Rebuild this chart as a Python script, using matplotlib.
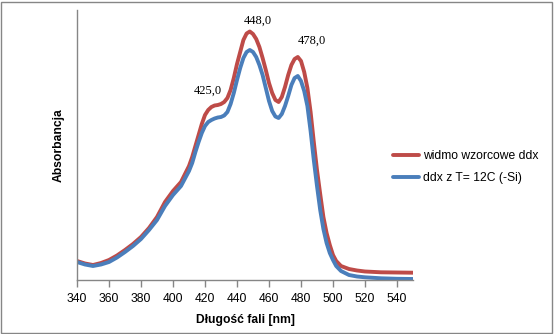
import matplotlib
matplotlib.use("Agg")
import matplotlib.pyplot as plt
from matplotlib.patches import Rectangle

# ---- data ----
wavelength = [340, 345, 350, 355, 360, 365, 370, 375, 380, 385, 390, 395, 400, 405,
              410, 412, 414, 416, 418, 420, 422, 424, 426, 428, 430, 432, 434, 436,
              438, 440, 442, 444, 446, 448, 450, 452, 454, 456, 458, 460, 462, 464,
              466, 468, 470, 472, 474, 476, 478, 480, 482, 484, 486, 488, 490, 492,
              494, 496, 498, 500, 502, 505, 510, 515, 520, 530, 540, 550]
ref_abs = [0.19, 0.165, 0.15, 0.17, 0.20, 0.245, 0.30, 0.36, 0.43, 0.52, 0.63, 0.78,
           0.89, 0.98,
           1.14, 1.23, 1.34, 1.45, 1.56, 1.65, 1.70, 1.73, 1.745, 1.75, 1.76, 1.78,
           1.82, 1.90, 2.02, 2.16, 2.28, 2.40, 2.465, 2.485, 2.46, 2.41, 2.33, 2.22,
           2.10, 1.97, 1.87, 1.80, 1.78, 1.83, 1.93, 2.05, 2.15, 2.21, 2.23, 2.19,
           2.08, 1.92, 1.68, 1.38, 1.10, 0.86, 0.63, 0.47, 0.35, 0.25, 0.19, 0.14,
           0.11, 0.095, 0.085, 0.077, 0.075, 0.073]
sample_abs = [0.18, 0.155, 0.14, 0.155, 0.18, 0.225, 0.28, 0.34, 0.41, 0.50, 0.60,
              0.74, 0.85, 0.94,
              1.09, 1.17, 1.28, 1.38, 1.47, 1.54, 1.58, 1.60, 1.615, 1.625, 1.63,
              1.645, 1.68, 1.76, 1.87, 2.00, 2.12, 2.22, 2.28, 2.30, 2.28, 2.23,
              2.15, 2.05, 1.92, 1.79, 1.69, 1.635, 1.62, 1.66, 1.74, 1.84, 1.95,
              2.02, 2.04, 1.99, 1.89, 1.74, 1.49, 1.20, 0.94, 0.70, 0.51, 0.37, 0.27,
              0.20, 0.14, 0.09, 0.05, 0.035, 0.027, 0.017, 0.012, 0.01]
series_names = ["widmo wzorcowe ddx", "ddx z T= 12C (-Si)"]
peaks = [425, 448, 478]
xticks = [340, 360, 380, 400, 420, 440, 460, 480, 500, 520, 540]

RED = "#BE4B48"
BLUE = "#4A7EBB"
GRAY = "#868686"
SANS = "Liberation Sans"

fig = plt.figure(figsize=(5.55, 3.34), dpi=100)
ax = fig.add_axes([77 / 555, 54 / 334, (413 - 77) / 555, (280 - 10) / 334])

ax.plot(wavelength, ref_abs, color=RED, lw=2.8, solid_capstyle="round",
        solid_joinstyle="round", label=series_names[0])
ax.plot(wavelength, sample_abs, color=BLUE, lw=2.8, solid_capstyle="round",
        solid_joinstyle="round", label=series_names[1])

ax.set_xlim(340, 550)
ax.set_ylim(0, 2.70)
ax.set_xticks(xticks)
ax.set_xticklabels([str(t) for t in xticks], fontfamily=SANS, fontsize=8.7)
ax.set_yticks([])
for s in ["top", "right"]:
    ax.spines[s].set_visible(False)
for s in ["left", "bottom"]:
    ax.spines[s].set_color(GRAY)
    ax.spines[s].set_linewidth(1.0)
ax.tick_params(axis="x", direction="out", length=5, width=1.0, color=GRAY, pad=4)

ax.set_xlabel("Długość fali [nm]", fontfamily=SANS, fontsize=8.7,
              fontweight="bold", labelpad=7)
ax.set_ylabel("Absorbancja", fontfamily=SANS, fontsize=8.7,
              fontweight="bold", labelpad=9)

offsets = {425: (-5, 16), 448: (8, 11), 478: (14, 16)}
for p in peaks:
    yv = ref_abs[wavelength.index(p - 1)] if p not in wavelength else ref_abs[wavelength.index(p)]
    ax.annotate(f"{p:.1f}".replace(".", ","), xy=(p, yv),
                xytext=offsets[p], textcoords="offset pixels",
                ha="center", va="center", fontfamily="Liberation Serif",
                fontsize=9, annotation_clip=False)

leg = ax.legend(loc="center left", bbox_to_anchor=(393 / 555, 0.5),
                bbox_transform=fig.transFigure, frameon=False,
                prop={"family": SANS, "size": 8.7}, handlelength=2.15,
                handletextpad=0.3, borderpad=0, borderaxespad=0,
                labelspacing=0.85)

fig.patches.append(Rectangle((1 / 555, 1 / 334), 551 / 555, 331 / 334,
                             transform=fig.transFigure, fill=False,
                             edgecolor=GRAY, lw=1.0))

fig.savefig("out.png", dpi=100)
